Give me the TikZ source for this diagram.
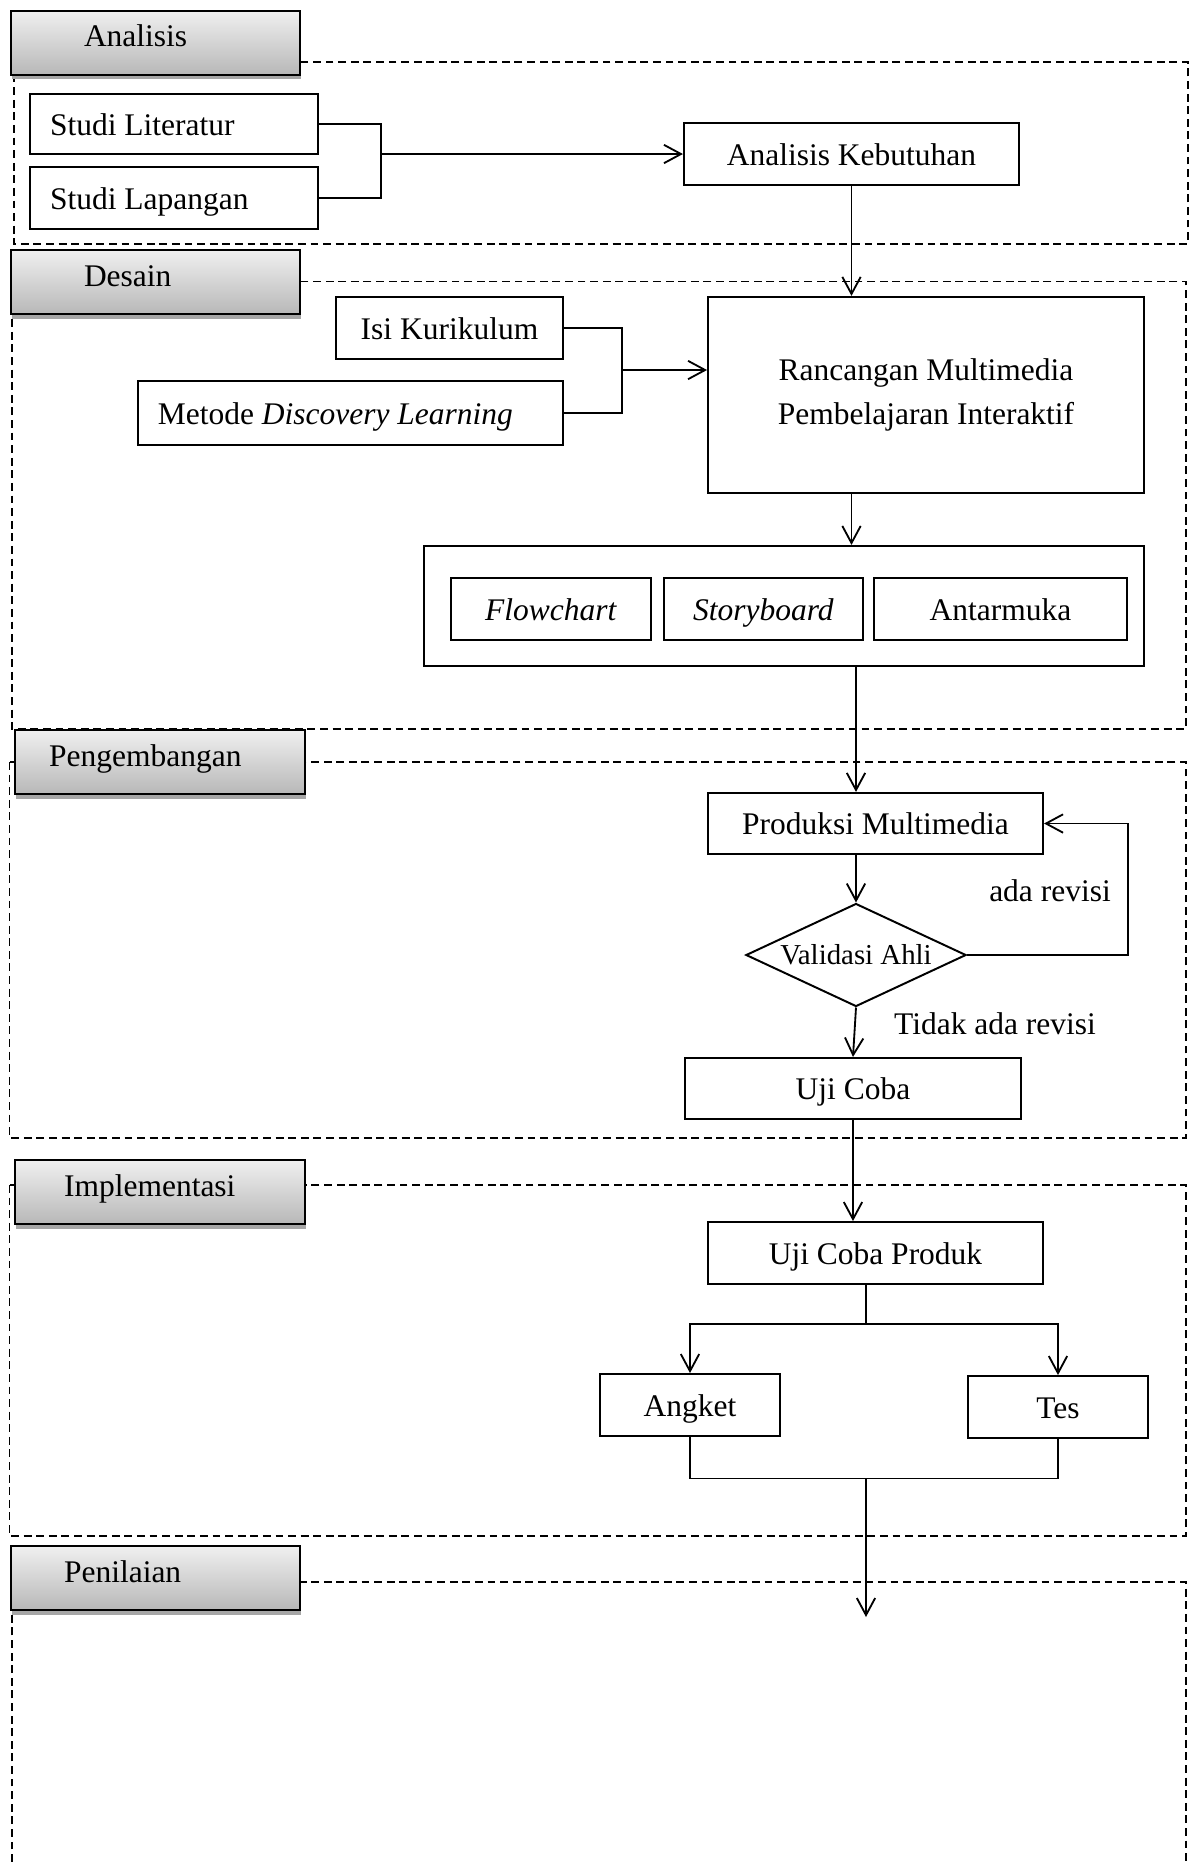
\documentclass[tikz,border=0pt,12pt]{standalone}
\usepackage{fontspec}
\setmainfont{Liberation Serif}
\usetikzlibrary{arrows.meta,shapes.geometric,shadows}

\begin{document}
\begin{tikzpicture}
[x=0.0134cm,y=-0.0134cm,
  every node/.style={font=\fontsize{12}{14.4}\selectfont},
  garisbox/.style={draw,line width=0.75pt,rectangle},
  kotak/.style={garisbox,inner sep=2pt,minimum height=0.83cm,text height=0.37cm,text depth=0.07cm},
  tab/.style={draw,line width=0.8pt,anchor=north west,text width=3.88cm,inner xsep=0pt,
    minimum height=0.86cm,text height=0.3cm,text depth=0.19cm,align=left,
    top color=black!6,bottom color=black!28,
    drop shadow={shadow xshift=0.5pt,shadow yshift=-1.8pt,fill=black!35,opacity=1}},
  panel/.style={line width=0.6pt,dash pattern=on 3pt off 1.8pt},
  garis/.style={line width=0.7pt},
  panah/.style={garis,-{Straight Barb[length=6.5pt,width=7pt]}}]
\useasboundingbox (0,0) rectangle (1190,1862);
\draw[panel] (14,62) rectangle (1188,244);
\draw[panel] (12,281.5) rectangle (1186,729);
\draw[panel] (9.5,762) rectangle (1186,1138);
\draw[panel] (9.5,1185) rectangle (1186,1536);
\draw[panel] (12,1862) -- (12,1582) -- (1186,1582) -- (1186,1862);
\node[tab] (tabA) at (9.5,9.5) {\hspace*{28pt}Analisis};
\node[tab] (tabD) at (9.5,249) {\hspace*{28pt}Desain};
\node[tab] (tabP) at (14,729) {\hspace*{13pt}Pengembangan};
\node[tab] (tabI) at (14,1159) {\hspace*{18.7pt}Implementasi};
\node[tab] (tabN) at (9.5,1545) {\hspace*{20.4pt}Penilaian};
\node[kotak,inner xsep=0.27cm,minimum height=0.80cm] (lit) at (174,124) {\makebox[3.32cm][l]{Studi Literatur}};
\node[kotak,inner xsep=0.27cm,minimum height=0.82cm] (lap) at (174,198) {\makebox[3.32cm][l]{Studi Lapangan}};
\node[kotak,minimum width=4.49cm] (ak) at (851.5,154) {Analisis Kebutuhan};
\node[kotak,minimum width=3.04cm] (isi) at (449.5,328) {Isi Kurikulum};
\node[kotak,inner xsep=0.27cm,minimum height=0.86cm] (met) at (350.5,413) {\makebox[5.16cm][l]{Metode \textit{Discovery Learning}}};
\node[garisbox,minimum width=5.84cm,minimum height=2.63cm,align=center,
  font=\fontsize{12}{16.7}\selectfont] (ran) at (926,395) {Rancangan Multimedia\\Pembelajaran Interaktif};
\node[garisbox,minimum width=9.65cm,minimum height=1.61cm] (grp) at (784,606) {};
\node[kotak,minimum width=2.68cm] (flo) at (551,609) {\textit{Flowchart}};
\node[kotak,minimum width=2.67cm] (sto) at (763.5,609) {\textit{Storyboard}};
\node[kotak,minimum width=3.39cm] (ant) at (1000.5,609) {Antarmuka};
\node[kotak,minimum width=4.49cm,minimum height=0.82cm] (pro) at (875.5,823.5) {Produksi Multimedia};
\node[draw,line width=0.75pt,shape=diamond,aspect=2.14,inner sep=0pt,minimum width=2.95cm,
  minimum height=1.38cm,font=\fontsize{11}{13}\selectfont] (val) at (856,955) {Validasi Ahli};
\node[kotak,minimum width=4.50cm,minimum height=0.82cm] (uji) at (853,1088.5) {Uji Coba};
\node[kotak,minimum width=4.49cm] (ujp) at (875.5,1253) {Uji Coba Produk};
\node[kotak,minimum width=2.41cm] (ang) at (690,1405) {Angket};
\node[kotak,minimum width=2.41cm] (tes) at (1058,1407) {Tes};
\node (lblAda) at (1050,891) {ada revisi};
\node (lblTidak) at (995,1024) {Tidak ada revisi};
\coordinate (brA) at (381,161);
\draw[garis] (lit.east) -| (brA) |- (lap.east);
\draw[panah] (brA |- ak.west) -- (ak.west);
\draw[panah] (ak.south) -- (ak.south |- ran.north);
\coordinate (brD) at (622,370);
\draw[garis] (isi.east) -| (brD) |- (met.east);
\draw[panah] (brD) -- (brD -| ran.west);
\draw[panah] (ran.south -| ak.south) -- (grp.north -| ak.south);
\draw[panah] (grp.south -| val.north) -- (pro.north -| val.north);
\draw[panah] (pro.south -| val.north) -- (val.north);
\coordinate (rev) at (1128,823.5);
\draw[panah] (val.east) -| (rev) -- (pro.east);
\draw[panah] (val.south) -- (uji.north);
\draw[panah] (uji.south) -- (uji.south |- ujp.north);
\coordinate (cab) at (866,1324);
\draw[garis] (cab |- ujp.south) -- (cab);
\draw[panah] (cab) -| (ang.north);
\draw[panah] (cab) -| (tes.north);
\coordinate (gab) at (866,1478.5);
\draw[garis] (ang.south) |- (gab) -| (tes.south);
\coordinate (akhir) at (866,1617);
\draw[panah] (gab) -- (akhir);
\end{tikzpicture}
\end{document}
